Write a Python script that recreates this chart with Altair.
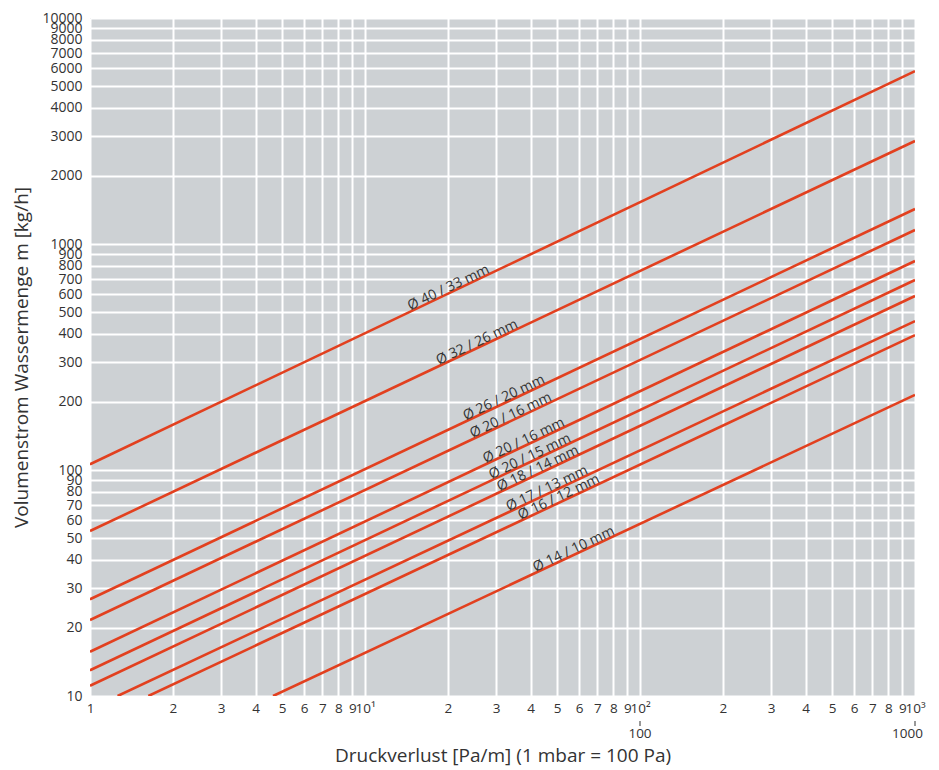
import math
import altair as alt
import pandas as pd

# ---- data ----
series_id = ["40/33", "32/26", "26/20", "20/16a", "20/16b", "20/15", "18/14", "17/13", "16/12", "14/10"]
series_label = ["Ø 40 / 33 mm", "Ø 32 / 26 mm", "Ø 26 / 20 mm", "Ø 20 / 16 mm", "Ø 20 / 16 mm",
                "Ø 20 / 15 mm", "Ø 18 / 14 mm", "Ø 17 / 13 mm", "Ø 16 / 12 mm", "Ø 14 / 10 mm"]
x_start = [1, 1, 1, 1, 1, 1, 1, 1.26, 1.63, 4.63]
y_start = [106, 53.7, 26.8, 21.7, 15.7, 13.0, 11.1, 10, 10, 10]
x_end = [1000] * 10
y_end = [5820, 2857, 1429, 1153, 841, 693, 589, 456, 395, 215]
label_x = [20.5, 26.0, 32.6, 34.5, 38.5, 40.5, 43.3, 46.7, 51.6, 58.5]

x_ticks = [1, 2, 3, 4, 5, 6, 7, 8, 9, 10, 20, 30, 40, 50, 60, 70, 80, 90,
           100, 200, 300, 400, 500, 600, 700, 800, 900, 1000]
y_ticks = [10, 20, 30, 40, 50, 60, 70, 80, 90, 100, 200, 300, 400, 500, 600, 700, 800, 900,
           1000, 2000, 3000, 4000, 5000, 6000, 7000, 8000, 9000, 10000]
second_row_x = [100, 1000]
second_row_text = ["100", "1000"]

W, H = 825, 678
FONT = "Open Sans"
TXT = "#333333"
RED = "#e2401f"

rows = []
for sid, xs, ys, xe, ye in zip(series_id, x_start, y_start, x_end, y_end):
    rows.append({"id": sid, "x": xs, "y": ys})
    rows.append({"id": sid, "x": xe, "y": ye})
lines_df = pd.DataFrame(rows)

lab_rows = []
for sid, lab, xs, ys, xe, ye, lx in zip(series_id, series_label, x_start, y_start, x_end, y_end, label_x):
    t = (math.log10(lx) - math.log10(xs)) / (math.log10(xe) - math.log10(xs))
    ly = 10 ** (math.log10(ys) + t * (math.log10(ye) - math.log10(ys)))
    lab_rows.append({"id": sid, "label": lab, "x": lx, "y": ly})
labels_df = pd.DataFrame(lab_rows)

xscale = alt.Scale(type="log", domain=[1, 1000], nice=False)
yscale = alt.Scale(type="log", domain=[10, 10000], nice=False)

x_label_expr = ("datum.value == 10 ? '10¹' : datum.value == 100 ? '10²' : "
                "datum.value == 1000 ? '10³' : substring(toString(datum.value), 0, 1)")

xaxis = alt.Axis(values=x_ticks, labelExpr=x_label_expr, grid=True, gridColor="white",
                 gridWidth=2, gridOpacity=1, ticks=False, domain=False, labelOverlap=False,
                 labelFlush=False, labelFont=FONT, labelFontSize=13.5, labelColor=TXT,
                 labelPadding=5, title="Druckverlust [Pa/m] (1 mbar = 100 Pa)",
                 titleFont=FONT, titleFontSize=19, titleFontWeight="normal", titleColor=TXT,
                 titlePadding=32)
yaxis = alt.Axis(values=y_ticks, format="d", grid=True, gridColor="white", gridWidth=2,
                 gridOpacity=1, ticks=False, domain=False, labelOverlap=False, labelFlush=False,
                 labelFont=FONT, labelFontSize=14, labelColor=TXT, labelPadding=8,
                 minExtent=52, maxExtent=52,
                 title="Volumenstrom Wassermenge m [kg/h]", titleFont=FONT, titleFontSize=19,
                 titleFontWeight="normal", titleColor=TXT, titlePadding=7)

lines = alt.Chart(lines_df).mark_line(color=RED, strokeWidth=2.6, clip=True).encode(
    x=alt.X("x:Q", scale=xscale, axis=xaxis),
    y=alt.Y("y:Q", scale=yscale, axis=yaxis),
    detail="id:N",
)

texts = alt.Chart(labels_df).mark_text(
    font=FONT, fontSize=14, color=TXT, angle=334.7, align="center", baseline="bottom", dy=2
).encode(
    x=alt.X("x:Q", scale=xscale),
    y=alt.Y("y:Q", scale=yscale),
    text="label:N",
)

sec_df = pd.DataFrame({"x": second_row_x, "t": second_row_text})
sec_text_a = alt.Chart(sec_df.iloc[:1]).mark_text(
    font=FONT, fontSize=13.5, color=TXT, align="center", baseline="middle"
).encode(x=alt.X("x:Q", scale=xscale), y=alt.value(H + 38), text="t:N")
sec_text_b = alt.Chart(sec_df.iloc[1:]).mark_text(
    font=FONT, fontSize=13.5, color=TXT, align="right", baseline="middle", dx=8
).encode(x=alt.X("x:Q", scale=xscale), y=alt.value(H + 38), text="t:N")
sec_ticks = alt.Chart(sec_df).mark_rule(color=TXT, strokeWidth=1).encode(
    x=alt.X("x:Q", scale=xscale), y=alt.value(H + 25), y2=alt.value(H + 30)
)

chart = alt.layer(lines, texts, sec_ticks, sec_text_a, sec_text_b).properties(
    width=W, height=H, padding={"left": 4, "top": 3, "right": 5, "bottom": 3},
    background="white"
).configure_view(fill="#cdd1d4", stroke=None)

chart.save("out.html", embed_options={"renderer": "svg", "actions": False})
